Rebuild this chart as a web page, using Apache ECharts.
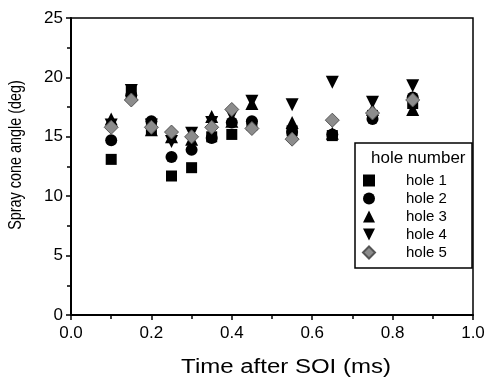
<!DOCTYPE html>
<html><head><meta charset="utf-8">
<script src="https://cdn.jsdelivr.net/npm/echarts@6/dist/echarts.min.js"></script>
<style>html,body{margin:0;padding:0;background:#fff}#c{width:491px;height:381px}</style>
</head><body><div id="c"></div>
<script>
var times = [0.1, 0.15, 0.2, 0.25, 0.3, 0.35, 0.4, 0.45, 0.55, 0.65, 0.75, 0.85];
var hole1 = [13.1, 18.8, 15.6, 11.7, 12.4, 15.0, 15.2, 16.0, 15.5, 15.1, 16.8, 17.8];
var hole2 = [14.7, 18.5, 16.3, 13.3, 13.9, 14.9, 16.2, 16.3, 15.4, 15.2, 16.5, 18.3];
var hole3 = [16.5, 18.6, 15.6, 15.0, 14.8, 16.7, 16.3, 17.8, 16.2, 15.3, 17.3, 17.3];
var hole4 = [16.0, 18.9, 16.0, 14.6, 15.3, 16.2, 16.8, 18.0, 17.7, 19.6, 17.9, 19.3];
var hole5 = [15.8, 18.1, 15.8, 15.4, 15.0, 15.8, 17.3, 15.7, 14.8, 16.4, 17.0, 18.1];
var seriesNames = ['hole 1', 'hole 2', 'hole 3', 'hole 4', 'hole 5'];
var xTicks = [0, 0.2, 0.4, 0.6, 0.8, 1.0];
var yTicks = [0, 5, 10, 15, 20, 25];

var values = [hole1, hole2, hole3, hole4, hole5];
var symbols = ['rect', 'circle', 'triangle', 'path://M0,0 L10,0 L5,10 Z', 'diamond'];
var sizes = [11, 12, 13, 13, 14];
var colors = ['#000', '#000', '#000', '#000', '#8c8c8c'];
var font = 'Liberation Sans, Arial, sans-serif';

var series = seriesNames.map(function (n, i) {
  return {
    name: n, type: 'scatter', symbol: symbols[i], symbolSize: sizes[i],
    data: times.map(function (t, j) { return [t, values[i][j]]; }),
    itemStyle: { color: colors[i], borderColor: i === 4 ? '#555' : '#000', borderWidth: i === 4 ? 1 : 0, opacity: 1 }
  };
});

var chart = echarts.init(document.getElementById('c'), null, { renderer: 'canvas' });
chart.setOption({
  animation: false,
  backgroundColor: '#fff',
  grid: { left: 71, right: 18, top: 18, bottom: 66, show: true, borderColor: '#000', borderWidth: 1.5, backgroundColor: 'transparent' },
  xAxis: {
    type: 'value', min: 0, max: 1, interval: 0.2,
    axisLine: { show: true, lineStyle: { color: '#000', width: 2 } },
    axisTick: { show: true, inside: false, length: 5, lineStyle: { color: '#000', width: 1.5 } },
    minorTick: { show: true, splitNumber: 2, length: 4, lineStyle: { color: '#000', width: 1.5 } },
    splitLine: { show: false },
    axisLabel: { color: '#000', fontSize: 17, fontFamily: font, margin: 10,
      formatter: function (v) { return xTicks.indexOf(+v.toFixed(1)) >= 0 ? v.toFixed(1) : ''; } }
  },
  yAxis: {
    type: 'value', min: 0, max: 25, interval: 5,
    axisLine: { show: true, lineStyle: { color: '#000', width: 2 } },
    axisTick: { show: true, inside: false, length: 5, lineStyle: { color: '#000', width: 1.5 } },
    minorTick: { show: true, splitNumber: 2, length: 4, lineStyle: { color: '#000', width: 1.5 } },
    splitLine: { show: false },
    axisLabel: { color: '#000', fontSize: 17, fontFamily: font, margin: 8,
      formatter: function (v) { return yTicks.indexOf(v) >= 0 ? String(v) : ''; } }
  },
  legend: {
    data: seriesNames, orient: 'vertical', left: 362, top: 173, padding: 0,
    itemWidth: 12, itemHeight: 12, itemGap: 3, z: 10,
    textStyle: { color: '#000', fontSize: 15, fontFamily: font, padding: [0, 0, 0, 26] },
    selectedMode: false
  },
  graphic: [
    { type: 'rect', shape: { x: 355, y: 143, width: 117, height: 125 }, style: { fill: 'none', stroke: '#000', lineWidth: 1.5 } },
    { type: 'text', x: 371, y: 158, style: { text: 'hole number', fill: '#000', fontSize: 17, fontFamily: font, verticalAlign: 'middle' } },
    { type: 'text', x: 286, y: 367, scaleX: 1.2, style: { text: 'Time after SOI (ms)', fill: '#000', fontSize: 20, fontFamily: font, align: 'center', verticalAlign: 'middle' } },
    { type: 'text', x: 16, y: 155, rotation: Math.PI / 2, scaleX: 0.8, style: { text: 'Spray cone angle (deg)', fill: '#000', fontSize: 18, fontFamily: font, align: 'center', verticalAlign: 'middle' } }
  ],
  series: series
});
</script></body></html>
